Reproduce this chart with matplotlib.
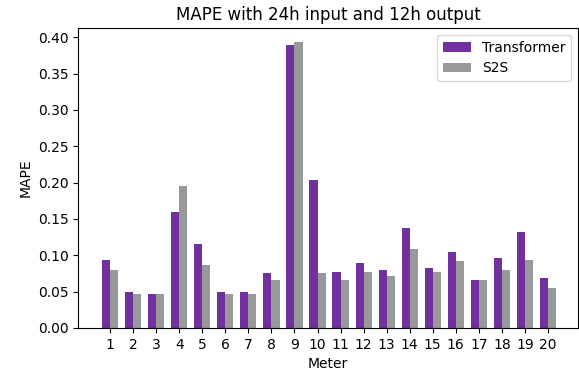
import numpy as np
import matplotlib.pyplot as plt

meters = list(range(1, 21))
transformer = [0.094, 0.050, 0.047, 0.160, 0.115, 0.049, 0.050, 0.075, 0.389, 0.203,
               0.077, 0.089, 0.079, 0.138, 0.083, 0.104, 0.066, 0.096, 0.132, 0.068]
s2s = [0.079, 0.047, 0.047, 0.195, 0.087, 0.047, 0.047, 0.066, 0.393, 0.075,
       0.066, 0.077, 0.072, 0.109, 0.077, 0.092, 0.066, 0.079, 0.094, 0.055]

width = 0.35
x = np.arange(len(meters)) + 1

fig, ax = plt.subplots(figsize=(5.79, 3.79), dpi=100)
fig.subplots_adjust(left=0.135, right=0.998, top=0.926, bottom=0.135)

ax.bar(x - width / 2, transformer, width, color="#7030a0", label="Transformer")
ax.bar(x + width / 2, s2s, width, color="#999999", label="S2S")

ax.set_xticks(x)
ax.set_xticklabels(meters)
ax.set_xlim(-0.39, 21.3)
ax.set_yticks(np.arange(0, 0.41, 0.05))
ax.set_xlabel("Meter")
ax.set_ylabel("MAPE")
ax.set_title("MAPE with 24h input and 12h output")
ax.legend(loc="upper right")

plt.savefig("out.png")
